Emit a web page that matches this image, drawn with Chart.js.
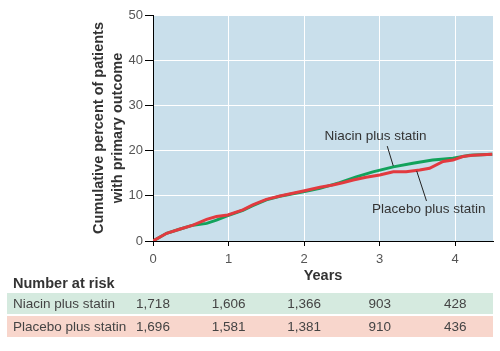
<!DOCTYPE html>
<html>
<head>
<meta charset="utf-8">
<script src="https://cdn.jsdelivr.net/npm/chart.js@4.4.1/dist/chart.umd.min.js"></script>
<style>
html, body { margin: 0; padding: 0; background: #fff; }
#wrap { position: relative; width: 500px; height: 351px; font-family: "Liberation Sans", Arial, sans-serif; }
#chart { position: absolute; left: 0; top: 0; }
.hdr { position: absolute; left: 13px; top: 276px; font-size: 14.5px; font-weight: bold; color: #333; line-height: 15px; }
.row { position: absolute; left: 7px; width: 486px; height: 21px; }
.row span { position: absolute; top: 0; font-size: 13.5px; color: #444; line-height: 21px; white-space: nowrap; }
.row span.val { transform: translateX(-50%); }
</style>
</head>
<body>
<div id="wrap">
  <canvas id="chart" width="500" height="351"></canvas>
  <div class="hdr">Number at risk</div>
  <div class="row" id="row1" style="top:293px;background:#d5eadf;"></div>
  <div class="row" id="row2" style="top:316px;background:#f8d6cc;"></div>
</div>
<script>
// кривые (годы / накопленный процент)
const niacinYears = [0, 0.18, 0.35, 0.53, 0.71, 0.84, 0.99, 1.19, 1.32, 1.50, 1.68, 1.99, 2.21, 2.47, 2.69, 2.91, 3.18, 3.44, 3.70, 3.97, 4.19, 4.49];
const niacinPct   = [0, 1.7, 2.6, 3.5, 3.9, 4.6, 5.6, 6.8, 7.8, 9.1, 9.9, 10.9, 11.65, 12.9, 14.2, 15.3, 16.4, 17.2, 17.9, 18.3, 18.95, 19.2];
const placeboYears = [0, 0.18, 0.35, 0.53, 0.71, 0.84, 0.99, 1.19, 1.32, 1.50, 1.68, 1.99, 2.21, 2.38, 2.51, 2.65, 2.82, 3.0, 3.18, 3.35, 3.53, 3.66, 3.84, 3.97, 4.10, 4.23, 4.49];
const placeboPct   = [0, 1.7, 2.6, 3.5, 4.8, 5.4, 5.75, 6.9, 8.0, 9.2, 9.95, 11.06, 11.9, 12.4, 12.9, 13.5, 14.1, 14.6, 15.3, 15.3, 15.7, 16.1, 17.6, 17.9, 18.7, 18.95, 19.2];

// таблица "Number at risk"
const riskYears = [0, 1, 2, 3, 4];
const niacinAtRisk = [1718, 1606, 1366, 903, 428];
const placeboAtRisk = [1696, 1581, 1381, 910, 436];
const seriesNames = ['Niacin plus statin', 'Placebo plus statin'];

const yTicks = [0, 10, 20, 30, 40, 50];

function pts(xs, ys) {
  return xs.map((x, i) => ({ x: x, y: ys[i] }));
}

// фон области графика
const bgPlugin = {
  id: 'bg',
  beforeDraw(chart) {
    const { ctx, chartArea: a } = chart;
    ctx.save();
    ctx.fillStyle = '#c9dfeb';
    ctx.fillRect(a.left, a.top, a.width, a.height);
    ctx.restore();
  }
};

// подписи кривых с выносками
const notesPlugin = {
  id: 'notes',
  afterDatasetsDraw(chart) {
    const { ctx, scales: { x, y } } = chart;
    const notes = [
      { text: seriesNames[0], tx: 2.27, ty: 23.2, from: [3.10, 21.0], to: [3.18, 16.6] },
      { text: seriesNames[1], tx: 2.90, ty: 7.1, from: [3.49, 15.5], to: [3.62, 8.85] }
    ];
    ctx.save();
    ctx.font = '13.5px "Liberation Sans", Arial, sans-serif';
    ctx.fillStyle = '#333';
    ctx.textBaseline = 'middle';
    ctx.strokeStyle = '#222';
    ctx.lineWidth = 1;
    notes.forEach(n => {
      ctx.fillText(n.text, x.getPixelForValue(n.tx), y.getPixelForValue(n.ty));
      ctx.beginPath();
      ctx.moveTo(x.getPixelForValue(n.from[0]), y.getPixelForValue(n.from[1]));
      ctx.lineTo(x.getPixelForValue(n.to[0]), y.getPixelForValue(n.to[1]));
      ctx.stroke();
    });
    ctx.restore();
  }
};

const tickFont = { family: '"Liberation Sans", Arial, sans-serif', size: 13 };

const chart = new Chart(document.getElementById('chart'), {
  type: 'line',
  data: {
    datasets: [{
      label: seriesNames[0],
      data: pts(niacinYears, niacinPct),
      borderColor: '#12a25b',
      borderWidth: 3,
      pointRadius: 0,
      tension: 0,
      order: 2
    }, {
      label: seriesNames[1],
      data: pts(placeboYears, placeboPct),
      borderColor: '#e23a3f',
      borderWidth: 3,
      pointRadius: 0,
      tension: 0,
      order: 1
    }]
  },
  options: {
    responsive: false,
    animation: false,
    layout: { padding: { top: 15, right: 7, left: 0, bottom: 67 } },
    plugins: { legend: { display: false }, tooltip: { enabled: false } },
    scales: {
      x: {
        type: 'linear',
        min: 0,
        max: 4.5,
        afterFit: s => { s.height = 43; },
        ticks: { stepSize: 1, includeBounds: false, color: '#555', font: tickFont, padding: 6 },
        grid: { color: '#fff', tickColor: '#000', tickLength: 5 },
        border: { color: '#000', width: 1 },
        title: {
          display: true,
          text: 'Years',
          color: '#333',
          font: { family: '"Liberation Sans", Arial, sans-serif', size: 14.5, weight: 'bold' },
          padding: { top: 0, bottom: -1 }
        }
      },
      y: {
        min: 0,
        max: 50,
        afterFit: s => { s.width = 153; },
        afterBuildTicks: s => { s.ticks = yTicks.map(v => ({ value: v })); },
        ticks: { color: '#555', font: tickFont, padding: 2 },
        grid: { color: '#fff', tickColor: '#000', tickLength: 8 },
        border: { color: '#000', width: 1 },
        title: {
          display: true,
          text: ['Cumulative percent of patients', 'with primary outcome'],
          color: '#333',
          font: { family: '"Liberation Sans", Arial, sans-serif', size: 14.5, weight: 'bold', lineHeight: 1.3 },
          padding: { top: 90, bottom: 0 }
        }
      }
    }
  },
  plugins: [bgPlugin, notesPlugin]
});

// строки таблицы, выровненные по делениям оси X
function fillRow(id, name, values) {
  const row = document.getElementById(id);
  const rowLeft = 7;
  const label = document.createElement('span');
  label.textContent = name;
  label.style.left = '6px';
  row.appendChild(label);
  values.forEach((v, i) => {
    const s = document.createElement('span');
    s.className = 'val';
    s.textContent = v.toLocaleString('en-US');
    s.style.left = (chart.scales.x.getPixelForValue(riskYears[i]) - rowLeft) + 'px';
    row.appendChild(s);
  });
}
fillRow('row1', seriesNames[0], niacinAtRisk);
fillRow('row2', seriesNames[1], placeboAtRisk);
</script>
</body>
</html>
